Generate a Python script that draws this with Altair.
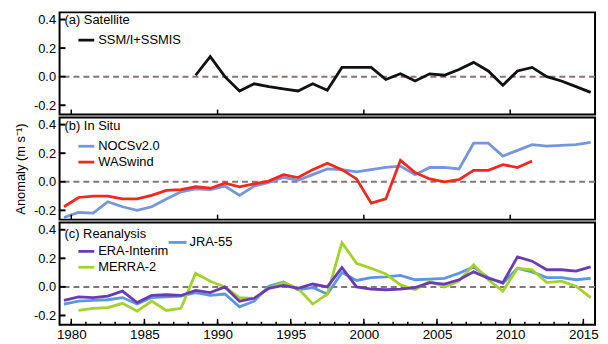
import altair as alt
import pandas as pd

# ---------------- data ----------------
years_sat = list(range(1988, 2016))
ssmi = [0.01, 0.14, 0.0, -0.10, -0.05, -0.07, -0.085, -0.10, -0.05, -0.095,
        0.065, 0.065, 0.065, -0.02, 0.02, -0.03, 0.02, 0.01, 0.05, 0.10,
        0.04, -0.06, 0.04, 0.065, 0.0, -0.03, -0.07, -0.11]

years_nocs = list(range(1979, 2016))
nocs = [-0.25, -0.215, -0.22, -0.14, -0.175, -0.2, -0.175, -0.12, -0.07, -0.05,
        -0.055, -0.03, -0.095, -0.03, -0.005, 0.03, 0.01, 0.05, 0.09, 0.085,
        0.07, 0.085, 0.10, 0.11, 0.05, 0.10, 0.10, 0.09, 0.27, 0.27,
        0.18, 0.22, 0.26, 0.25, 0.255, 0.26, 0.275]

years_was = list(range(1979, 2012))
waswind = [-0.175, -0.11, -0.10, -0.10, -0.12, -0.12, -0.095, -0.06, -0.055, -0.035,
           -0.045, -0.01, -0.035, -0.015, 0.005, 0.05, 0.03, 0.085, 0.13, 0.085,
           0.02, -0.15, -0.12, 0.15, 0.065, 0.02, 0.0, 0.015, 0.08, 0.08,
           0.12, 0.10, 0.145]

years_era = list(range(1979, 2016))
era = [-0.095, -0.07, -0.075, -0.065, -0.03, -0.11, -0.06, -0.055, -0.06, -0.025,
       -0.04, 0.0, -0.10, -0.08, -0.01, 0.01, -0.01, 0.02, 0.0, 0.135,
       0.0, -0.015, -0.02, -0.015, -0.005, 0.03, 0.02, 0.05, 0.105, 0.06,
       0.03, 0.21, 0.18, 0.12, 0.12, 0.11, 0.14]

years_jra = list(range(1979, 2016))
jra = [-0.12, -0.10, -0.095, -0.09, -0.075, -0.12, -0.075, -0.07, -0.065, -0.04,
       -0.06, -0.05, -0.14, -0.10, 0.005, 0.035, -0.02, -0.005, -0.05, 0.10,
       0.045, 0.065, 0.07, 0.08, 0.05, 0.055, 0.06, 0.095, 0.14, 0.065,
       0.025, 0.13, 0.105, 0.065, 0.065, 0.05, 0.06]

years_merra = list(range(1980, 2016))
merra = [-0.165, -0.15, -0.145, -0.115, -0.17, -0.10, -0.165, -0.15, 0.095, 0.04,
         0.0, -0.075, -0.08, -0.01, 0.03, -0.01, -0.12, -0.05, 0.31, 0.165,
         0.13, 0.09, 0.015, -0.02, 0.04, 0.0, 0.04, 0.155, 0.05, -0.03,
         0.13, 0.12, 0.03, 0.04, 0.005, -0.075]

y_ticks = [-0.2, 0.0, 0.2, 0.4]
x_ticks_ab = [1980, 1990, 2000, 2010]
x_labels_c = [1980, 1985, 1990, 1995, 2000, 2005, 2010, 2015]
x_minor_c = list(range(1980, 2016))

# ---------------- style ----------------
FONT = "Liberation Sans Narrow, Arial Narrow, Liberation Sans, Arial, sans-serif"
W, H = 540, 103
LW = 2.8
x_scale = alt.Scale(domain=[1979.2, 2015.8], nice=False, zero=False)
y_scale = alt.Scale(domain=[-0.265, 0.45], nice=False, zero=False)

C_SSMI = "#111111"
C_NOCS = "#7396dc"
C_WAS = "#f0281e"
C_ERA = "#6a3cb4"
C_JRA = "#5b97dc"
C_MERRA = "#a3d22d"

label_expr = "datum.value < 0 ? '-' + format(-datum.value, '.1f') : format(datum.value, '.1f')"


def y_axis(title=None):
    kw = dict(values=y_ticks, labelExpr=label_expr, ticks=False, domain=False, grid=False,
              labelFont=FONT, labelFontSize=13, labelColor="black", labelPadding=4)
    if title:
        kw.update(title=title, titleFont=FONT, titleFontSize=13, titleFontWeight="normal",
                  titleColor="black", titlePadding=6)
    else:
        kw.update(title=None)
    return alt.Axis(**kw)


def x_axis(labels):
    if labels:
        return alt.Axis(values=x_labels_c, format="d", ticks=False, domain=False, grid=False,
                        labelFont=FONT, labelFontSize=13.5, labelColor="black",
                        labelPadding=3, title=None)
    return None


def line_layer(years, values, color, xa, ya):
    df = pd.DataFrame({"year": years, "value": values})
    return alt.Chart(df).transform_calculate(xmid="datum.year + 0.5").mark_line(
        color=color, strokeWidth=LW, clip=True).encode(
        x=alt.X("xmid:Q", scale=x_scale, axis=xa),
        y=alt.Y("value:Q", scale=y_scale, axis=ya))


def zero_layer(xa, ya):
    return alt.Chart(pd.DataFrame({"v": [0.0]})).mark_rule(
        color="#857575", strokeWidth=2, strokeDash=[6, 4]).encode(
        y=alt.Y("v:Q", scale=y_scale, axis=ya))


def ytick_layer(ya):
    return alt.Chart(pd.DataFrame({"v": y_ticks})).mark_rule(
        color="black", strokeWidth=2).encode(
        y=alt.Y("v:Q", scale=y_scale, axis=ya), x=alt.value(0), x2=alt.value(6))


def xtick_layer(vals, size, xa):
    return alt.Chart(pd.DataFrame({"v": vals})).mark_rule(
        color="black", strokeWidth=1.5).encode(
        x=alt.X("v:Q", scale=x_scale, axis=xa), y=alt.value(H), y2=alt.value(H - size))


def text_layer(label, x, y):
    return alt.Chart(pd.DataFrame({"t": [label]})).mark_text(
        align="left", baseline="middle", font=FONT, fontSize=13, color="black").encode(
        text="t:N", x=alt.value(x), y=alt.value(y))


def swatch(color, x0, x1, y):
    return alt.Chart(pd.DataFrame({"a": [0]})).mark_rule(
        color=color, strokeWidth=LW).encode(x=alt.value(x0), x2=alt.value(x1), y=alt.value(y))


# ---------------- panel (a) ----------------
ya_a = y_axis()
xa_a = x_axis(False)
panel_a = alt.layer(
    zero_layer(xa_a, ya_a),
    line_layer(years_sat, ssmi, C_SSMI, xa_a, ya_a),
    ytick_layer(ya_a),
    xtick_layer(x_ticks_ab, 5, xa_a),
    text_layer("(a) Satellite", 5, 8),
    swatch(C_SSMI, 19, 35, 28),
    text_layer("SSM/I+SSMIS", 39, 28),
).properties(width=W, height=H)

# ---------------- panel (b) ----------------
ya_b = y_axis("Anomaly (m s\u207b\u00b9)")
xa_b = x_axis(False)
panel_b = alt.layer(
    zero_layer(xa_b, ya_b),
    line_layer(years_nocs, nocs, C_NOCS, xa_b, ya_b),
    line_layer(years_was, waswind, C_WAS, xa_b, ya_b),
    ytick_layer(ya_b),
    xtick_layer(x_ticks_ab, 5, xa_b),
    text_layer("(b) In Situ", 5, 9),
    swatch(C_NOCS, 19, 35, 29),
    text_layer("NOCSv2.0", 39, 29),
    swatch(C_WAS, 19, 35, 45),
    text_layer("WASwind", 39, 45),
).properties(width=W, height=H)

# ---------------- panel (c) ----------------
ya_c = y_axis()
xa_c = x_axis(True)
panel_c = alt.layer(
    zero_layer(xa_c, ya_c),
    line_layer(years_jra, jra, C_JRA, xa_c, ya_c),
    line_layer(years_merra, merra, C_MERRA, xa_c, ya_c),
    line_layer(years_era, era, C_ERA, xa_c, ya_c),
    ytick_layer(ya_c),
    xtick_layer(x_minor_c, 3, xa_c),
    xtick_layer(x_labels_c, 6, xa_c),
    text_layer("(c) Reanalysis", 5, 12),
    swatch(C_ERA, 19, 35, 29),
    text_layer("ERA-Interim", 39, 29),
    swatch(C_MERRA, 19, 35, 45),
    text_layer("MERRA-2", 39, 45),
    swatch(C_JRA, 110, 128, 20),
    text_layer("JRA-55", 131, 20),
).properties(width=W, height=H)

chart = alt.vconcat(panel_a, panel_b, panel_c, spacing=3, bounds="flush").properties(
    padding={"left": 5, "top": 2, "right": 0, "bottom": 0},
    background="white",
).configure_view(stroke="black", strokeWidth=2).resolve_scale(x="shared", y="shared")

chart.save("out.html", embed_options={"renderer": "svg", "actions": False})
